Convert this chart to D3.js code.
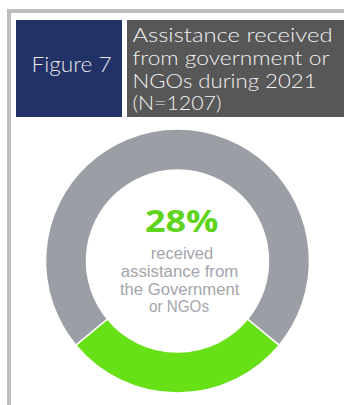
<!DOCTYPE html>
<html>
<head>
<meta charset="utf-8">
<script src="https://cdn.jsdelivr.net/npm/d3@7"></script>
<style>
  html, body { margin: 0; padding: 0; background: #fff; }
  svg { display: block; }
</style>
</head>
<body>
<svg id="chart" width="344" height="405"></svg>
<script>
// Share of households that received assistance (%)
const categories = ["Received assistance", "Did not receive assistance"];
const shares = [28, 72];
const sliceColors = ["#67e018", "#9b9fa5"];

const figureLabel = "Figure 7";
const titleLines = ["Assistance received", "from government or", "NGOs during 2021", "(N=1207)"];
const captionLines = ["received", "assistance from", "the Government", "or NGOs"];

const svg = d3.select("#chart");
const FONT = "'Open Sans', 'Noto Sans', sans-serif";
const HEADER_FONT = "Lato, 'Open Sans', sans-serif";
const CAPTION_FONT = "'Liberation Sans', Arial, sans-serif";

// Outer frame
svg.append("rect")
  .attr("x", 9).attr("y", 11)
  .attr("width", 420).attr("height", 460)
  .attr("fill", "none")
  .attr("stroke", "#bdbdbd")
  .attr("stroke-width", 4);

// Header boxes
svg.append("rect").attr("x", 16).attr("y", 20).attr("width", 106).attr("height", 97).attr("fill", "#223166");
svg.append("rect").attr("x", 127).attr("y", 20).attr("width", 230).attr("height", 97).attr("fill", "#575757");

// Text helper: fixed size, stretched to a given run length
function label(g, str, x, y, size, weight, fill, len, family) {
  return g.append("text")
    .attr("x", x).attr("y", y)
    .attr("font-family", family || FONT)
    .attr("font-size", size)
    .attr("font-weight", weight)
    .attr("fill", fill)
    .attr("textLength", len)
    .attr("lengthAdjust", "spacingAndGlyphs")
    .text(str);
}

label(svg, figureLabel, 31.5, 71.5, 21, 300, "#e6e8f0", 80, HEADER_FONT);

const titleLens = [200, 197, 184, 89];
const titleBase = [41.5, 64.5, 87.5, 110];
titleLines.forEach((t, i) => label(svg, t, 132.5, titleBase[i], 19, 300, "#f2f2f2", titleLens[i], HEADER_FONT));

// Donut
const cx = 177.5, cy = 261, rOuter = 132, rInner = 91;
const pie = d3.pie().sort(null).value(d => d)
  .startAngle(Math.PI - Math.PI * shares[0] / 100)
  .endAngle(Math.PI - Math.PI * shares[0] / 100 + 2 * Math.PI);
const arc = d3.arc().innerRadius(rInner).outerRadius(rOuter);

const donut = svg.append("g").attr("transform", `translate(${cx},${cy})`);
donut.selectAll("path")
  .data(pie(shares))
  .join("path")
  .attr("d", arc)
  .attr("fill", (d, i) => sliceColors[i])
  .attr("stroke", "#ffffff")
  .attr("stroke-width", 1.5)
  .append("title").text((d, i) => `${categories[i]}: ${d.data}%`);

// Centre statement
label(svg, shares[0] + "%", 145, 232.3, 30, 700, "#5fd41c", 73.5);
const capX = [150.7, 120.7, 120, 149];
const capLen = [62.6, 117.6, 119.3, 60];
const capBase = [258.5, 276.5, 294.5, 311.5];
captionLines.forEach((t, i) => label(svg, t, capX[i], capBase[i], 16, 400, "#a3a5ab", capLen[i], CAPTION_FONT));
</script>
</body>
</html>
